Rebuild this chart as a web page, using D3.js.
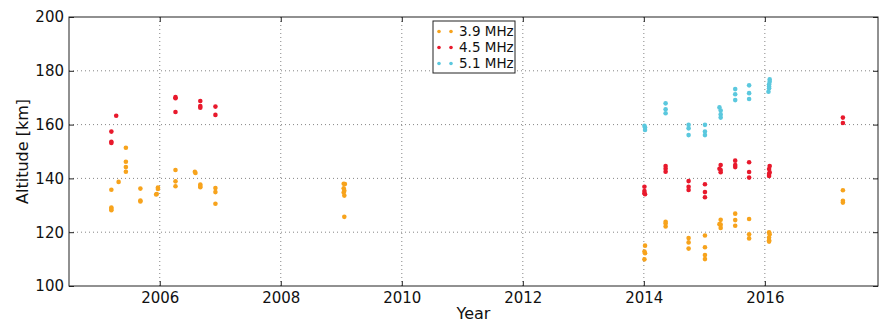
<!DOCTYPE html>
<html>
<head>
<meta charset="utf-8">
<script src="https://cdn.jsdelivr.net/npm/d3@7"></script>
<style>
	body { margin: 0; background: #fff; }
	svg { display: block; font-family: "DejaVu Sans", sans-serif; }
	.grid line { stroke: #666; stroke-width: 0.8; stroke-dasharray: 1,3; }
	.axis path { display: none; }
	.axis line { stroke: #222; }
	.axis text { fill: #111; font-size: 15px; font-family: "DejaVu Sans", sans-serif; }
</style>
</head>
<body>
<svg width="879" height="323"></svg>
<script>

	// Sounding frequencies, one series each: [year, altitude in km]
	var series_names = ["3.9 MHz", "4.5 MHz", "5.1 MHz"];
	var series_colors = ["#f7a31c", "#e8192c", "#5bc8de"];

	var f39_points = [
		[2005.20, 135.8], [2005.20, 129.2], [2005.20, 128.6], [2005.20, 128.2],
		[2005.32, 138.7],
		[2005.44, 151.4], [2005.44, 146.2], [2005.44, 144.2], [2005.44, 142.5],
		[2005.68, 136.2], [2005.68, 131.8], [2005.68, 131.4],
		[2005.97, 136.6], [2005.97, 136.1], [2005.95, 134.2], [2005.94, 134.0],
		[2006.26, 143.1], [2006.26, 138.9], [2006.26, 137.1],
		[2006.58, 142.5], [2006.59, 142.0],
		[2006.67, 137.7], [2006.67, 137.2], [2006.67, 136.7],
		[2006.92, 136.4], [2006.92, 134.9], [2006.92, 130.6],
		[2009.04, 138.0], [2009.06, 137.9], [2009.04, 136.3], [2009.05, 135.4], [2009.04, 134.8], [2009.05, 133.6], [2009.05, 125.7],
		[2014.02, 115.0], [2014.01, 112.8], [2014.02, 112.2], [2014.01, 109.9],
		[2014.36, 123.9], [2014.36, 123.2], [2014.36, 122.1],
		[2014.74, 117.8], [2014.74, 116.2], [2014.74, 113.9],
		[2015.01, 118.8], [2015.01, 114.4], [2015.01, 111.5], [2015.01, 110.0],
		[2015.27, 124.6], [2015.25, 123.0], [2015.27, 122.8], [2015.27, 121.6],
		[2015.51, 126.9], [2015.51, 124.5], [2015.51, 122.4],
		[2015.74, 124.9], [2015.74, 119.2], [2015.74, 117.7],
		[2016.07, 120.0], [2016.08, 119.2], [2016.07, 118.0], [2016.07, 117.0], [2016.07, 116.5],
		[2017.29, 135.6], [2017.29, 131.7], [2017.29, 131.0]
	];

	var f45_points = [
		[2005.20, 157.4], [2005.20, 153.6], [2005.20, 153.2],
		[2005.28, 163.3],
		[2006.26, 170.2], [2006.26, 169.8], [2006.26, 164.7],
		[2006.67, 168.8], [2006.67, 166.9], [2006.67, 166.3],
		[2006.92, 166.7], [2006.92, 163.6],
		[2014.01, 136.9], [2014.01, 135.3], [2014.01, 134.5], [2014.02, 134.1],
		[2014.36, 144.6], [2014.36, 143.6], [2014.36, 142.5],
		[2014.74, 139.0], [2014.74, 136.9], [2014.74, 135.7],
		[2015.01, 137.8], [2015.01, 134.9], [2015.01, 133.0],
		[2015.27, 145.0], [2015.25, 143.6], [2015.27, 143.1], [2015.27, 142.3],
		[2015.51, 146.6], [2015.51, 145.0], [2015.51, 144.2],
		[2015.74, 146.0], [2015.74, 142.4], [2015.74, 140.3],
		[2016.08, 144.6], [2016.07, 143.5], [2016.08, 142.3], [2016.07, 141.6], [2016.07, 140.9],
		[2017.29, 162.6], [2017.29, 160.6]
	];

	var f51_points = [
		[2014.01, 159.6], [2014.02, 158.9], [2014.02, 158.0],
		[2014.36, 167.9], [2014.36, 165.7], [2014.36, 164.2],
		[2014.74, 159.9], [2014.74, 158.6], [2014.74, 156.1],
		[2015.01, 159.9], [2015.01, 157.4], [2015.01, 156.1],
		[2015.25, 166.4], [2015.27, 165.2], [2015.27, 163.8], [2015.27, 162.6],
		[2015.51, 173.2], [2015.51, 171.3], [2015.51, 169.1],
		[2015.74, 174.6], [2015.74, 171.7], [2015.74, 169.5],
		[2016.08, 176.8], [2016.08, 175.9], [2016.07, 175.0], [2016.07, 174.2], [2016.07, 173.5], [2016.06, 172.2]
	];

	var year_ticks = [2006, 2008, 2010, 2012, 2014, 2016];
	var altitude_ticks = [100, 120, 140, 160, 180, 200];

	var chart = (function(){

		var svg = d3.select("svg");
		var margin = {top: 17, right: 1, bottom: 37, left: 69};
		var width = 879 - margin.left - margin.right;
		var height = 323 - margin.top - margin.bottom;

		var x = d3.scaleLinear().domain([2004.5, 2017.87]).range([0, width]);
		var y = d3.scaleLinear().domain([100, 200]).range([height, 0]);

		var g = svg.append("g").attr("transform", "translate(" + margin.left + "," + margin.top + ")");

		// dotted grid, inner lines only
		var grid = g.append("g").attr("class", "grid");
		grid.selectAll("line.v").data(year_ticks).enter().append("line")
			.attr("x1", function(d){ return x(d); }).attr("x2", function(d){ return x(d); })
			.attr("y1", 0).attr("y2", height);
		grid.selectAll("line.h").data(altitude_ticks.slice(1, -1)).enter().append("line")
			.attr("y1", function(d){ return y(d); }).attr("y2", function(d){ return y(d); })
			.attr("x1", 0).attr("x2", width);

		// ticks point inward on all four sides
		g.append("g").attr("class", "axis")
			.attr("transform", "translate(0," + height + ")")
			.call(d3.axisBottom(x).tickValues(year_ticks).tickFormat(d3.format("d")).tickSize(-5).tickPadding(6));
		g.append("g").attr("class", "axis")
			.call(d3.axisTop(x).tickValues(year_ticks).tickFormat("").tickSize(-5));
		g.append("g").attr("class", "axis")
			.call(d3.axisLeft(y).tickValues(altitude_ticks).tickFormat(d3.format("d")).tickSize(-5).tickPadding(5));
		g.append("g").attr("class", "axis")
			.attr("transform", "translate(" + width + ",0)")
			.call(d3.axisRight(y).tickValues(altitude_ticks).tickFormat("").tickSize(-5));

		var all_series = [f39_points, f45_points, f51_points];
		all_series.forEach(function(points, i){
			g.append("g").selectAll("circle").data(points).enter().append("circle")
				.attr("cx", function(d){ return x(d[0]); })
				.attr("cy", function(d){ return y(d[1]); })
				.attr("r", 2.3)
				.attr("fill", series_colors[i]);
		});

		// frame
		g.append("rect")
			.attr("width", width).attr("height", height)
			.attr("fill", "none").attr("stroke", "#222").attr("stroke-width", 1);

		g.append("text")
			.attr("x", width / 2).attr("y", height + 33)
			.attr("text-anchor", "middle").attr("font-size", 16).attr("fill", "#111")
			.text("Year");

		g.append("text")
			.attr("transform", "translate(" + (-41) + "," + (height / 2) + ") rotate(-90)")
			.attr("text-anchor", "middle").attr("font-size", 16).attr("fill", "#111")
			.text("Altitude [km]");

		// legend
		var legend = svg.append("g").attr("transform", "translate(433,21)");
		legend.append("rect")
			.attr("width", 82).attr("height", 52)
			.attr("fill", "#fff").attr("stroke", "#222").attr("stroke-width", 1);
		var rows = legend.selectAll("g.row").data(series_names).enter().append("g")
			.attr("transform", function(d, i){ return "translate(0," + (10.5 + i * 16) + ")"; });
		rows.append("circle").attr("cx", 6).attr("r", 1.8).attr("fill", function(d, i){ return series_colors[i]; });
		rows.append("circle").attr("cx", 18).attr("r", 1.8).attr("fill", function(d, i){ return series_colors[i]; });
		rows.append("text")
			.attr("x", 26).attr("dy", "0.36em")
			.attr("font-size", 13.5).attr("fill", "#111")
			.text(function(d){ return d; });

		return null;
	})();

</script>
</body>
</html>
